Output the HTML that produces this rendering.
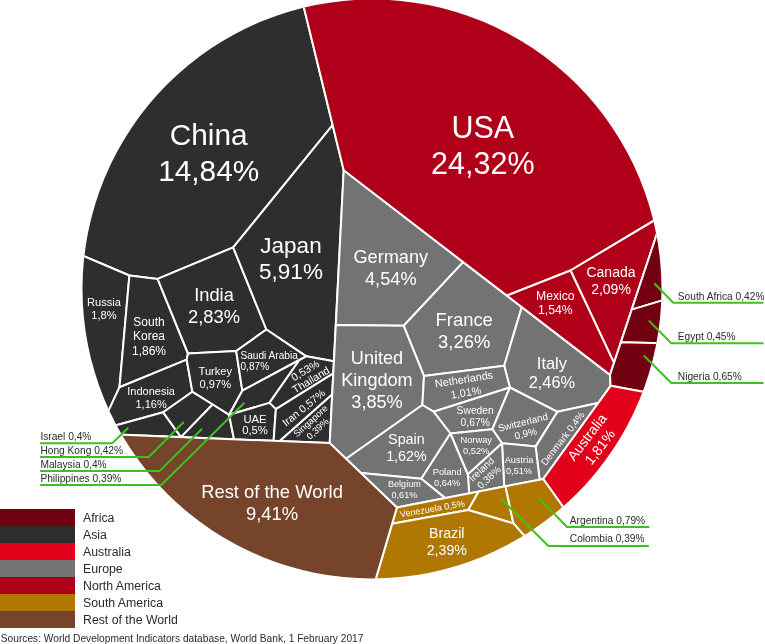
<!DOCTYPE html>
<html><head><meta charset="utf-8"><style>
html,body{margin:0;padding:0;background:#fff;}
svg{display:block;-webkit-font-smoothing:antialiased;will-change:transform;font-family:"Liberation Sans",Arial,sans-serif;}
</style></head><body>
<svg width="765" height="644" viewBox="0 0 765 644">
<defs><clipPath id="c"><circle cx="372.0" cy="289.0" r="289.5"/></clipPath></defs>
<g clip-path="url(#c)" stroke="#fff" stroke-width="2" stroke-linejoin="round">
<polygon points="298.0,-16.7 332.6,125.1 233.2,247.4 157.6,278.9 129.4,275.5 60.4,246.2 15.8,240.1 25.5,193.3 41.2,148.2 62.8,105.6 89.8,66.2 121.9,30.8 158.3,-0.1 198.5,-25.9 241.8,-46.1 287.4,-60.4" fill="#2e2e2e"/>
<polygon points="129.4,275.5 119.5,387.2 95.5,438.9 56.0,460.3 36.8,419.0 23.1,375.7 15.0,330.9 12.5,285.5 15.8,240.1 60.4,246.2" fill="#2e2e2e"/>
<polygon points="129.4,275.5 157.6,278.9 188.0,353.5 186.7,359.6 119.5,387.2" fill="#2e2e2e"/>
<polygon points="157.6,278.9 233.2,247.4 266.4,329.5 236.2,351.0 188.0,353.5" fill="#2e2e2e"/>
<polygon points="332.6,125.1 343.7,170.3 335.8,324.9 333.9,361.3 306.3,356.3 266.4,329.5 233.2,247.4" fill="#2e2e2e"/>
<polygon points="119.5,387.2 186.7,359.6 192.4,391.8 163.2,412.3 91.9,432.0 51.8,452.5 53.9,456.4 56.0,460.3 95.5,438.9" fill="#2e2e2e"/>
<polygon points="188.0,353.5 236.2,351.0 242.3,390.7 229.1,414.8 212.6,404.5 192.4,391.8 186.7,359.6" fill="#2e2e2e"/>
<polygon points="236.2,351.0 266.4,329.5 306.3,356.3 299.4,360.0 242.3,390.7" fill="#2e2e2e"/>
<polygon points="163.2,412.3 181.0,437.1 92.7,433.6 52.7,454.3 52.3,453.4 51.8,452.5 91.9,432.0" fill="#2e2e2e"/>
<polygon points="163.2,412.3 192.4,391.8 212.6,404.5 181.0,437.1" fill="#2e2e2e"/>
<polygon points="212.6,404.5 229.1,414.8 234.0,439.3 181.0,437.1" fill="#2e2e2e"/>
<polygon points="242.3,390.7 299.4,360.0 269.4,402.9 229.1,414.8" fill="#2e2e2e"/>
<polygon points="306.3,356.3 333.9,361.3 333.3,373.4 275.9,409.1 269.4,402.9 299.4,360.0" fill="#2e2e2e"/>
<polygon points="229.1,414.8 269.4,402.9 275.9,409.1 273.6,440.8 234.0,439.3" fill="#2e2e2e"/>
<polygon points="275.9,409.1 333.3,373.4 332.2,394.6 279.8,441.1 273.6,440.8" fill="#2e2e2e"/>
<polygon points="279.8,441.1 332.2,394.6 329.7,443.1" fill="#2e2e2e"/>
<polygon points="343.7,170.3 463.2,262.1 403.7,325.8 335.8,324.9" fill="#737373"/>
<polygon points="463.2,262.1 521.8,307.1 504.2,365.7 424.0,376.1 403.7,325.8" fill="#737373"/>
<polygon points="335.8,324.9 403.7,325.8 424.0,376.1 422.4,405.0 346.1,458.8 329.7,443.1" fill="#737373"/>
<polygon points="521.8,307.1 610.0,374.9 610.6,385.8 598.2,403.0 557.5,411.8 509.9,387.5 504.2,365.7" fill="#737373"/>
<polygon points="424.0,376.1 504.2,365.7 509.9,387.5 433.5,411.7 422.4,405.0" fill="#737373"/>
<polygon points="433.5,411.7 509.9,387.5 492.4,429.2 450.4,433.5" fill="#737373"/>
<polygon points="509.9,387.5 557.5,411.8 535.6,446.6 502.0,443.2 492.4,429.2" fill="#737373"/>
<polygon points="557.5,411.8 598.2,403.0 543.2,479.0 539.6,479.7 535.6,446.6" fill="#737373"/>
<polygon points="422.4,405.0 433.5,411.7 450.4,433.5 421.3,478.8 360.8,472.9 346.1,458.8" fill="#737373"/>
<polygon points="450.4,433.5 492.4,429.2 502.0,443.2 467.8,474.5" fill="#737373"/>
<polygon points="535.6,446.6 539.6,479.7 504.2,486.6 502.0,443.2" fill="#737373"/>
<polygon points="467.8,474.5 502.0,443.2 504.2,486.6 469.2,493.4" fill="#737373"/>
<polygon points="421.3,478.8 450.4,433.5 467.8,474.5 469.2,493.4 445.2,498.1" fill="#737373"/>
<polygon points="360.8,472.9 421.3,478.8 445.2,498.1 396.9,507.5" fill="#737373"/>
<polygon points="298.0,-16.7 287.4,-60.4 333.0,-68.4 379.2,-70.4 425.4,-66.5 470.6,-56.7 514.2,-41.2 555.5,-20.2 593.7,6.0 628.2,36.8 658.5,71.9 684.0,110.5 704.4,152.1 719.2,195.9 675.8,207.6 570.5,270.5 506.8,295.6 343.7,170.3" fill="#b00019"/>
<polygon points="570.5,270.5 675.8,207.6 719.2,195.9 716.6,186.7 713.8,177.5 671.0,191.4 614.0,362.9" fill="#b00019"/>
<polygon points="506.8,295.6 570.5,270.5 614.0,362.9 610.0,374.9" fill="#b00019"/>
<polygon points="671.0,191.4 713.8,177.5 723.9,215.5 729.8,254.4 731.5,293.7 686.5,293.1 631.7,309.6" fill="#720010"/>
<polygon points="631.7,309.6 686.5,293.1 731.5,293.7 729.9,322.9 726.0,351.8 681.7,343.9 620.9,342.2" fill="#720010"/>
<polygon points="620.9,342.2 681.7,343.9 726.0,351.8 719.3,382.0 710.0,411.5 667.7,396.2 610.6,385.8 610.0,374.9" fill="#720010"/>
<polygon points="610.6,385.8 667.7,396.2 710.0,411.5 691.6,453.6 668.1,492.9 639.7,529.0 606.9,561.1 577.5,527.0 543.2,479.0" fill="#e2001a"/>
<polygon points="396.9,507.5 478.7,491.6 468.2,510.0 392.1,523.8" fill="#b07800"/>
<polygon points="478.7,491.6 505.5,486.3 513.4,523.4 468.2,510.0" fill="#b07800"/>
<polygon points="505.5,486.3 543.2,479.0 577.5,527.0 606.9,561.1 586.5,577.5 564.9,592.4 540.8,554.4 513.4,523.4" fill="#b07800"/>
<polygon points="392.1,523.8 468.2,510.0 513.4,523.4 540.8,554.4 564.9,592.4 528.7,612.6 490.3,628.5 450.4,639.8 409.5,646.5 368.0,648.5 368.5,603.5" fill="#b07800"/>
<polygon points="92.7,433.6 329.7,443.1 396.9,507.5 368.5,603.5 368.0,648.5 319.6,644.7 272.1,634.3 226.4,617.7 183.5,595.1 143.9,566.9 108.5,533.6 77.9,495.8 52.7,454.3" fill="#76442b"/>
</g>
<g fill="#fff">
<text x="208.7" y="144.8" font-size="29.8" text-anchor="middle">China</text>
<text x="208.7" y="181.0" font-size="29.8" text-anchor="middle">14,84%</text>
<text x="482.8" y="137.7" font-size="30.5" text-anchor="middle">USA</text>
<text x="482.8" y="173.9" font-size="30.5" text-anchor="middle">24,32%</text>
<text x="291.0" y="253.0" font-size="22.5" text-anchor="middle">Japan</text>
<text x="291.0" y="278.9" font-size="22.5" text-anchor="middle">5,91%</text>
<text x="390.8" y="262.7" font-size="18.2" text-anchor="middle">Germany</text>
<text x="390.8" y="284.7" font-size="18.2" text-anchor="middle">4,54%</text>
<text x="464.2" y="325.6" font-size="18.4" text-anchor="middle">France</text>
<text x="464.2" y="347.6" font-size="18.4" text-anchor="middle">3,26%</text>
<text x="377.0" y="363.7" font-size="18.1" text-anchor="middle">United</text>
<text x="377.0" y="385.7" font-size="18.1" text-anchor="middle">Kingdom</text>
<text x="377.0" y="407.7" font-size="18.1" text-anchor="middle">3,85%</text>
<text x="551.9" y="369.1" font-size="16.4" text-anchor="middle">Italy</text>
<text x="551.9" y="387.8" font-size="16.4" text-anchor="middle">2,46%</text>
<text x="611.0" y="276.7" font-size="14.0" text-anchor="middle">Canada</text>
<text x="611.0" y="294.2" font-size="14.0" text-anchor="middle">2,09%</text>
<text x="555.3" y="300.0" font-size="12.2" text-anchor="middle">Mexico</text>
<text x="555.3" y="314.2" font-size="12.2" text-anchor="middle">1,54%</text>
<text x="214.0" y="301.0" font-size="18.3" text-anchor="middle">India</text>
<text x="214.0" y="322.8" font-size="18.3" text-anchor="middle">2,83%</text>
<text x="104.0" y="305.6" font-size="11.1" text-anchor="middle">Russia</text>
<text x="104.0" y="318.8" font-size="11.1" text-anchor="middle">1,8%</text>
<text x="149.0" y="325.5" font-size="12.0" text-anchor="middle">South</text>
<text x="149.0" y="340.0" font-size="12.0" text-anchor="middle">Korea</text>
<text x="149.0" y="354.5" font-size="12.0" text-anchor="middle">1,86%</text>
<text x="151.1" y="394.9" font-size="11.0" text-anchor="middle">Indonesia</text>
<text x="151.1" y="407.5" font-size="11.0" text-anchor="middle">1,16%</text>
<text x="215.3" y="375.0" font-size="11.1" text-anchor="middle">Turkey</text>
<text x="215.3" y="387.6" font-size="11.1" text-anchor="middle">0,97%</text>
<text x="240.5" y="359.2" font-size="10.1" text-anchor="start">Saudi Arabia</text>
<text x="240.5" y="369.9" font-size="10.1" text-anchor="start">0,87%</text>
<text x="255.0" y="422.9" font-size="11.3" text-anchor="middle">UAE</text>
<text x="255.0" y="434.0" font-size="11.3" text-anchor="middle">0,5%</text>
<text x="475.2" y="413.9" font-size="10.3" text-anchor="middle">Sweden</text>
<text x="475.2" y="425.7" font-size="10.3" text-anchor="middle">0,67%</text>
<text x="519.0" y="462.6" font-size="9.2" text-anchor="middle">Austria</text>
<text x="519.0" y="474.1" font-size="9.2" text-anchor="middle">0,51%</text>
<text x="406.4" y="443.7" font-size="14.3" text-anchor="middle">Spain</text>
<text x="406.4" y="460.7" font-size="14.3" text-anchor="middle">1,62%</text>
<text x="476.2" y="442.5" font-size="9.3" text-anchor="middle">Norway</text>
<text x="476.2" y="453.8" font-size="9.3" text-anchor="middle">0,52%</text>
<text x="447.2" y="474.6" font-size="9.3" text-anchor="middle">Poland</text>
<text x="447.2" y="485.8" font-size="9.3" text-anchor="middle">0,64%</text>
<text x="404.4" y="487.0" font-size="9.1" text-anchor="middle">Belgium</text>
<text x="404.4" y="497.7" font-size="9.1" text-anchor="middle">0,61%</text>
<text x="446.8" y="537.6" font-size="14.2" text-anchor="middle">Brazil</text>
<text x="446.8" y="554.5" font-size="14.2" text-anchor="middle">2,39%</text>
<text x="272.0" y="497.8" font-size="18.4" text-anchor="middle">Rest of the World</text>
<text x="272.0" y="520.2" font-size="18.4" text-anchor="middle">9,41%</text>
<g transform="translate(307.1 373.6) rotate(-31.0)"><text x="0" y="0.0" font-size="10.8" text-anchor="middle">0,53%</text><text x="0" y="11.0" font-size="10.8" text-anchor="middle">Thailand</text></g>
<g transform="translate(306.0 410.6) rotate(-39.0)"><text x="0" y="0.0" font-size="10.7" text-anchor="middle">Iran 0,57%</text></g>
<g transform="translate(312.7 423.3) rotate(-42.0)"><text x="0" y="0.0" font-size="9.3" text-anchor="middle">Singapore</text><text x="0" y="10.5" font-size="9.3" text-anchor="middle">0,39%</text></g>
<g transform="translate(464.5 382.9) rotate(-9.0)"><text x="0" y="0.0" font-size="10.9" text-anchor="middle">Netherlands</text><text x="0" y="13.5" font-size="10.9" text-anchor="middle">1,01%</text></g>
<g transform="translate(523.7 425.6) rotate(-14.1)"><text x="0" y="0.0" font-size="9.9" text-anchor="middle">Switzerland</text><text x="0" y="11.5" font-size="9.9" text-anchor="middle">0,9%</text></g>
<g transform="translate(565.4 440.6) rotate(-52.5)"><text x="0" y="0.0" font-size="9.8" text-anchor="middle">Denmark 0,4%</text></g>
<g transform="translate(483.8 471.9) rotate(-43.0)"><text x="0" y="0.0" font-size="10.0" text-anchor="middle">Ireland</text><text x="0" y="11.0" font-size="10.0" text-anchor="middle">0,38%</text></g>
<g transform="translate(590.8 440.1) rotate(-52.5)"><text x="0" y="0.0" font-size="14.0" text-anchor="middle">Australia</text><text x="0" y="16.2" font-size="14.0" text-anchor="middle">1,81%</text></g>
<g transform="translate(432.8 511.9) rotate(-9.9)"><text x="0" y="0.0" font-size="9.1" text-anchor="middle">Venezuela 0,5%</text></g>
</g>
<polyline points="654.4,283.5 673.2,302.8 763.5,302.8" fill="none" stroke="#3cc21e" stroke-width="2"/>
<text x="677.8" y="300.0" font-size="10.2" fill="#2b2b2b">South Africa 0,42%</text>
<polyline points="648.9,320.6 671.3,343.2 763.5,343.2" fill="none" stroke="#3cc21e" stroke-width="2"/>
<text x="677.8" y="340.1" font-size="10.2" fill="#2b2b2b">Egypt 0,45%</text>
<polyline points="643.8,355.5 671.3,383.0 763.5,383.0" fill="none" stroke="#3cc21e" stroke-width="2"/>
<text x="677.8" y="379.6" font-size="10.2" fill="#2b2b2b">Nigeria 0,65%</text>
<polyline points="538.5,497.6 567.0,526.9 649.3,526.9" fill="none" stroke="#3cc21e" stroke-width="2"/>
<text x="569.8" y="523.5" font-size="10.2" fill="#2b2b2b">Argentina 0,79%</text>
<polyline points="501.0,498.8 548.4,546.0 648.8,546.0" fill="none" stroke="#3cc21e" stroke-width="2"/>
<text x="569.8" y="542.2" font-size="10.2" fill="#2b2b2b">Colombia 0,39%</text>
<polyline points="128.3,427.7 112.2,443.3 40.1,443.3" fill="none" stroke="#3cc21e" stroke-width="2"/>
<text x="40.4" y="439.6" font-size="10.2" fill="#2b2b2b">Israel 0,4%</text>
<polyline points="183.8,422.0 148.8,457.0 40.1,457.0" fill="none" stroke="#3cc21e" stroke-width="2"/>
<text x="40.4" y="453.9" font-size="10.2" fill="#2b2b2b">Hong Kong 0,42%</text>
<polyline points="202.0,428.8 159.5,471.1 40.1,471.1" fill="none" stroke="#3cc21e" stroke-width="2"/>
<text x="40.4" y="467.6" font-size="10.2" fill="#2b2b2b">Malaysia 0,4%</text>
<polyline points="244.4,402.8 161.3,485.0 40.1,485.0" fill="none" stroke="#3cc21e" stroke-width="2"/>
<text x="40.4" y="481.5" font-size="10.2" fill="#2b2b2b">Philippines 0,39%</text>
<rect x="0" y="509" width="75" height="17" fill="#720010"/>
<text x="83" y="521.9" font-size="12.3" fill="#2b2b2b">Africa</text>
<rect x="0" y="526" width="75" height="17" fill="#2e2e2e"/>
<text x="83" y="538.9" font-size="12.3" fill="#2b2b2b">Asia</text>
<rect x="0" y="543" width="75" height="17" fill="#e2001a"/>
<text x="83" y="555.9" font-size="12.3" fill="#2b2b2b">Australia</text>
<rect x="0" y="560" width="75" height="17" fill="#737373"/>
<text x="83" y="572.9" font-size="12.3" fill="#2b2b2b">Europe</text>
<rect x="0" y="577" width="75" height="17" fill="#b00019"/>
<text x="83" y="589.9" font-size="12.3" fill="#2b2b2b">North America</text>
<rect x="0" y="594" width="75" height="17" fill="#b07800"/>
<text x="83" y="606.9" font-size="12.3" fill="#2b2b2b">South America</text>
<rect x="0" y="611" width="75" height="17" fill="#76442b"/>
<text x="83" y="623.9" font-size="12.3" fill="#2b2b2b">Rest of the World</text>
<text x="0.8" y="641.9" font-size="10.2" fill="#2b2b2b">Sources: World Development Indicators database, World Bank, 1 February 2017</text>
</svg>
</body></html>
